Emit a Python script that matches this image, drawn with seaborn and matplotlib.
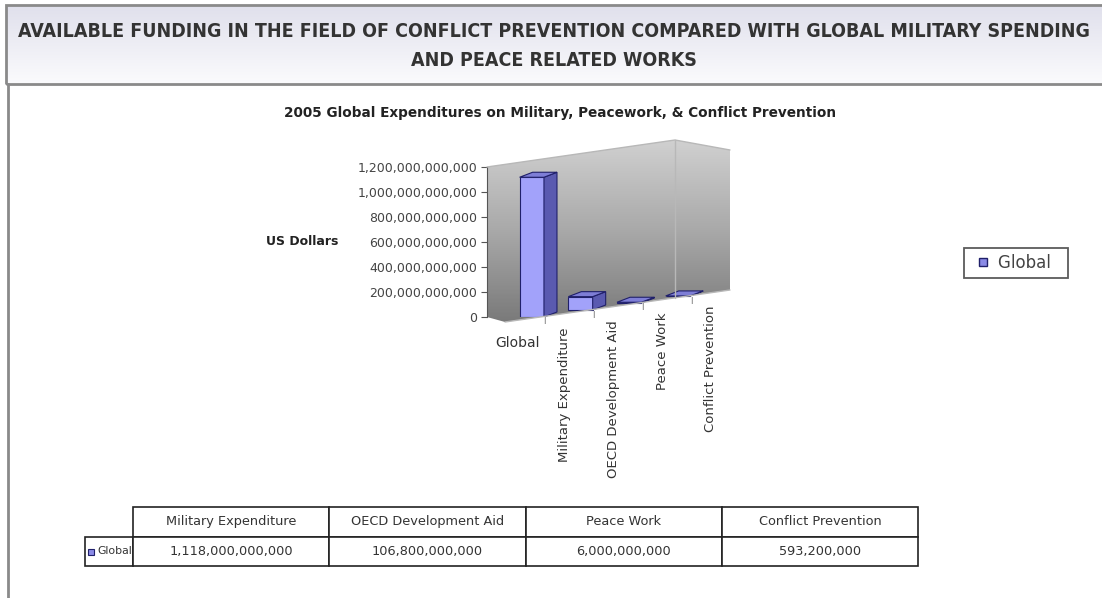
import numpy as np
import pandas as pd
import seaborn as sns
import matplotlib.pyplot as plt
import matplotlib.transforms as mtransforms
from matplotlib import font_manager
from matplotlib.patches import Polygon, Rectangle
from matplotlib.lines import Line2D

# data
categories = ['Military Expenditure', 'OECD Development Aid', 'Peace Work', 'Conflict Prevention']
values = [1118000000000, 106800000000, 6000000000, 593200000]
series_name = 'Global'
y_ticks = [0, 200e9, 400e9, 600e9, 800e9, 1000e9, 1200e9]

sns.set_style('white')
plt.rcParams['font.family'] = ['DejaVu Sans']

W, H = 1102, 598
fig = plt.figure(figsize=(W / 100, H / 100), dpi=100)


def fx(px):
    return px / W


def fy(py):
    return 1 - py / H


# narrow bold face for the banner if one is installed
names = {(f.name, f.stretch) for f in font_manager.fontManager.ttflist}
if any(n == 'Liberation Sans Narrow' for n, s in names):
    title_font = dict(family='Liberation Sans Narrow', fontsize=16)
elif any(n == 'DejaVu Sans' and s == 'condensed' for n, s in names):
    title_font = dict(family='DejaVu Sans', fontstretch='condensed', fontsize=14)
else:
    title_font = dict(family='DejaVu Sans', fontsize=12.6)

# header band
hax = fig.add_axes([fx(6), fy(84), 1 - fx(6), (84 - 5) / H])
grad = np.linspace(0, 1, 100).reshape(-1, 1)
hax.imshow(grad, aspect='auto', cmap=sns.blend_palette(['#e0e0ec', '#fbfbfd'], as_cmap=True),
           extent=[0, 1, 0, 1])
hax.axis('off')
hax.text(0.5, 0.66, 'AVAILABLE FUNDING IN THE FIELD OF CONFLICT PREVENTION COMPARED WITH GLOBAL MILITARY SPENDING',
         ha='center', va='center', fontweight='bold', color='#333333', transform=hax.transAxes, **title_font)
hax.text(0.5, 0.30, 'AND PEACE RELATED WORKS',
         ha='center', va='center', fontweight='bold', color='#333333', transform=hax.transAxes, **title_font)
fig.patches.append(Rectangle((fx(6), fy(84)), 1.0, (84 - 5) / H, transform=fig.transFigure,
                             facecolor='none', edgecolor='#8a8a8a', linewidth=2))
fig.lines.append(Line2D([fx(8), fx(8)], [fy(84), 0], transform=fig.transFigure,
                        color='#8a8a8a', linewidth=2))

fig.text(fx(560), fy(113), '2005 Global Expenditures on Military, Peacework, & Conflict Prevention',
         ha='center', va='center', fontsize=9.8, fontweight='bold', color='#222222')

# walls of the 3d box (decoration)
bgax = fig.add_axes([fx(480), fy(330), (740 - 480) / W, (330 - 135) / H])
bgax.axis('off')
wall = Polygon([(fx(487), fy(167)), (fx(675), fy(140)), (fx(730), fy(150)), (fx(730), fy(290)),
                (fx(505), fy(322)), (fx(487), fy(317))], closed=True, transform=fig.transFigure)
im = bgax.imshow(grad, aspect='auto', extent=[0, 1, 0, 1],
                 cmap=sns.blend_palette(['#d2d2d2', '#a8a8a8', '#767676'], as_cmap=True))
im.set_clip_path(wall)
for seg in [[(675, 140), (675, 298)], [(487, 167), (675, 140), (730, 150)], [(505, 322), (730, 290)]]:
    xs, ys = zip(*seg)
    fig.lines.append(Line2D([fx(v) for v in xs], [fy(v) for v in ys], transform=fig.transFigure,
                            color='#b8b8b8', linewidth=1))

# bars
ax = fig.add_axes([fx(487), fy(317), (730 - 487) / W, (317 - 167) / H])
ax.set_facecolor('none')
df = pd.DataFrame({'category': categories, 'value': values})
sns.barplot(data=df, x='category', y='value', color='#a2a2fa', saturation=1,
            edgecolor='#20206a', linewidth=0.8, width=0.5, ax=ax, zorder=3)
xlim = (-0.92, 4.07)
ylim = (0, 1.2e12)
ax.set_xlim(*xlim)
ax.set_ylim(*ylim)

ax_w_px = 730 - 487
ax_h_px = 317 - 167
ddx = 13 / (ax_w_px / (xlim[1] - xlim[0]))
ddy = 5 / (ax_h_px / (ylim[1] - ylim[0]))
rise = 0.07  # inches the floor rises per category (depth)

bars = list(ax.patches)
for i, p in enumerate(bars):
    off = ax.transData + mtransforms.ScaledTranslation(0, i * rise, fig.dpi_scale_trans)
    p.set_transform(off)
    x0, w, h = p.get_x(), p.get_width(), p.get_height()
    side = Polygon([(x0 + w, 0), (x0 + w + ddx, ddy), (x0 + w + ddx, h + ddy), (x0 + w, h)],
                   facecolor='#5a5ab0', edgecolor='#20206a', linewidth=0.8, zorder=3, transform=off)
    top = Polygon([(x0, h), (x0 + ddx, h + ddy), (x0 + w + ddx, h + ddy), (x0 + w, h)],
                  facecolor='#7e7ed6', edgecolor='#20206a', linewidth=0.8, zorder=3, transform=off)
    ax.add_patch(side)
    ax.add_patch(top)

sns.despine(ax=ax, left=False, bottom=True)
ax.spines['left'].set_color('#555555')
ax.set_xticks([])
ax.set_xlabel('')
ax.set_ylabel('')
ax.set_yticks(y_ticks)
ax.set_yticklabels([f'{v:,.0f}' for v in y_ticks], fontsize=9, color='#444444')
ax.tick_params(axis='y', length=4, color='#555555', pad=3, left=True)

# depth-axis labels follow the rising floor
blend = mtransforms.blended_transform_factory(ax.transData, ax.transAxes)
for i, cat in enumerate(categories):
    t = blend + mtransforms.ScaledTranslation(0.33, -0.11 + i * 0.075, fig.dpi_scale_trans)
    ax.text(i, 0, cat, transform=t, rotation=90, ha='center', va='top', fontsize=9.5, color='#333333')
    tk = blend + mtransforms.ScaledTranslation(0.13, -0.04 + i * 0.07, fig.dpi_scale_trans)
    ax.text(i, 0, '|', transform=tk, ha='center', va='center', fontsize=5, color='#444444')
ax.text(0, 0, series_name, transform=blend + mtransforms.ScaledTranslation(-0.14, -0.26, fig.dpi_scale_trans),
        ha='center', va='center', fontsize=10, color='#333333')

fig.text(fx(302), fy(241), 'US Dollars', ha='center', va='center', fontsize=9,
         fontweight='bold', color='#222222')

# legend
leg = fig.legend(handles=[Line2D([], [], linestyle='none', marker='s', markersize=5.5,
                                 markerfacecolor='#8a8ae6', markeredgecolor='#20206a')],
                 labels=[series_name + '  '], loc='center', bbox_to_anchor=(fx(1016), fy(263)),
                 frameon=True, fancybox=False, edgecolor='#333333', handlelength=1.6,
                 handletextpad=0.1, fontsize=12, borderpad=0.35)
leg.get_frame().set_linewidth(1.3)
for t in leg.get_texts():
    t.set_color('#444444')

# data table
tax = fig.add_axes([fx(85), fy(566), (918 - 85) / W, (566 - 507) / H])
tax.axis('off')
widths = np.array([48, 196, 196, 196, 196], dtype=float)
cell_text = [[''] + categories, [series_name] + [f'{v:,}' for v in values]]
tbl = tax.table(cellText=cell_text, colWidths=list(widths / widths.sum()), cellLoc='center',
                bbox=[0, 0, 1, 1])
tbl.auto_set_font_size(False)
tbl.set_fontsize(9.3)
for (r, c), cell in tbl.get_celld().items():
    cell.set_edgecolor('#222222')
    cell.set_linewidth(1.2)
    cell.get_text().set_color('#333333')
tbl[0, 0].visible_edges = 'open'
tbl[1, 0].get_text().set_ha('right')
tbl[1, 0].get_text().set_fontsize(7.8)
tbl[1, 0].PAD = 0.02
fig.patches.append(Rectangle((fx(88), fy(555)), 6 / W, 6 / H, transform=fig.transFigure,
                             facecolor='#8a8ae6', edgecolor='#20206a', linewidth=0.8))

fig.savefig('out.png', dpi=100)
